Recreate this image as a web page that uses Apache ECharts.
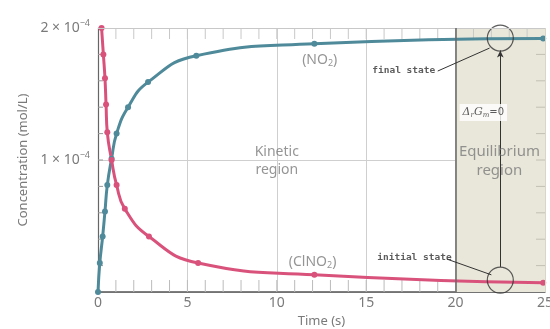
<!DOCTYPE html>
<html>
<head>
<meta charset="utf-8">
<script src="https://cdn.jsdelivr.net/npm/echarts@6/dist/echarts.min.js"></script>
<style>
  html, body { margin: 0; padding: 0; background: #fff; }
  #main { width: 550px; height: 329px; }
</style>
</head>
<body>
<div id="main"></div>
<script>
// time (s) / concentration (mol/L)
const NO2_T = [0, 0.1, 0.26, 0.39, 0.52, 0.76, 1.04, 1.68, 2.8, 5.5, 12.1, 24.9]
const NO2_C = [0, 0.22e-4, 0.42e-4, 0.61e-4, 0.81e-4, 1.01e-4, 1.2e-4, 1.4e-4, 1.59e-4, 1.79e-4, 1.88e-4, 1.92e-4]
const CLNO2_T = [0.2, 0.3, 0.39, 0.45, 0.52, 0.76, 1.04, 1.5, 2.85, 5.6, 12.1, 24.9]
const CLNO2_C = [2.0e-4, 1.8e-4, 1.62e-4, 1.42e-4, 1.21e-4, 1.0e-4, 0.81e-4, 0.63e-4, 0.42e-4, 0.22e-4, 0.13e-4, 0.07e-4]
const Y_LABELS = {1: '1 × 10{s|−4}', 2: '2 × 10{s|−4}'}
const X_MAX = 25
const Y_MAX = 2e-4
const EQ_START = 20
const EQ_END = 25

const grey = '#7a7a7a'
const blue = '#4f8a9a'
const pink = '#d9527c'

const zip = (xs, ys) => xs.map((x, i) => [x, ys[i]])

// frame ticks: every 1 s along time, every 0.2e-4 along concentration
// [value, side] side: 0 bottom, 1 top, 2 left, 3 right
const frameTicks = []
for (let s = 1; s < X_MAX; s++) {
  if (s < EQ_START) frameTicks.push([s, 0])
  frameTicks.push([s, 1])
}
for (let k = 1; k < 10; k++) {
  frameTicks.push([k * 0.2e-4, 2])
  frameTicks.push([k * 0.2e-4, 3])
}

let chart = echarts.init(document.getElementById('main'))

// text notes placed in data units
const notes = [
  {value: [12.4, 1.76e-4], text: '(NO{sub|2})', style: 'plain'},
  {value: [12.0, 0.23e-4], text: '(ClNO{sub|2})', style: 'plain'},
  {value: [10, 0.99e-4], text: 'Kinetic\nregion', style: 'plain'},
  {value: [22.45, 0.99e-4], text: 'Equilibrium\nregion', style: 'big'},
  {value: [17.1, 1.68e-4], text: 'final state', style: 'mono'},
  {value: [17.7, 0.26e-4], text: 'initial state', style: 'mono'},
  {value: [21.55, 1.36e-4], text: '{g|Δ}{sub|r}{g|G}{sub|m}{e|=0}', style: 'dg'}
]

function noteLabel(n) {
  const base = {show: true, position: 'inside', formatter: n.text}
  if (n.style === 'mono') {
    return Object.assign(base, {
      fontFamily: 'DejaVu Sans Mono', fontWeight: 'bold', fontSize: 9.5, color: '#333'
    })
  }
  if (n.style === 'dg') {
    return Object.assign(base, {
      backgroundColor: '#fff', padding: [2, 3],
      rich: {
        g: {fontFamily: 'DejaVu Serif', fontStyle: 'italic', fontSize: 11, color: '#333'},
        sub: {fontFamily: 'DejaVu Serif', fontStyle: 'italic', fontSize: 7, color: '#333', padding: [6, 0, 0, 0]},
        e: {fontFamily: 'DejaVu Sans', fontSize: 10, color: '#333'}
      }
    })
  }
  const size = n.style === 'big' ? 15 : 14
  return Object.assign(base, {
    fontFamily: 'Noto Sans', fontSize: size, lineHeight: size + 4, color: grey, align: 'center',
    rich: {sub: {fontFamily: 'Noto Sans', fontSize: 9, color: grey, padding: [8, 0, 0, 0]}}
  })
}

function renderTick(params, api) {
  const v = api.value(0)
  const side = api.value(1)
  let p, d, color
  if (side === 0) { p = api.coord([v, 0]); d = [0, -12]; color = '#bbb' }
  else if (side === 1) { p = api.coord([v, Y_MAX]); d = [0, 11]; color = '#c8c8c8' }
  else if (side === 2) { p = api.coord([0, v]); d = [5, 0]; color = '#999' }
  else { p = api.coord([X_MAX, v]); d = [-9, 0]; color = '#c2c0b2' }
  return {
    type: 'line',
    shape: {x1: p[0], y1: p[1], x2: p[0] + d[0], y2: p[1] + d[1]},
    style: {stroke: color, lineWidth: 1}
  }
}

chart.setOption({
  animation: false,
  grid: {left: 98, right: 5, top: 28, bottom: 37, outerBoundsMode: 'none'},
  xAxis: {
    type: 'value', min: 0, max: X_MAX, interval: 5,
    name: 'Time (s)', nameLocation: 'middle', nameGap: 22,
    nameTextStyle: {color: grey, fontSize: 13, fontFamily: 'Noto Sans'},
    axisLine: {onZero: false, lineStyle: {color: '#555', width: 1.5}},
    axisTick: {show: false},
    axisLabel: {color: grey, fontSize: 14, fontFamily: 'Noto Sans', margin: 4},
    splitLine: {show: true, lineStyle: {color: '#cfcfcf', width: 1}}
  },
  yAxis: {
    type: 'value', min: 0, max: Y_MAX, interval: 1e-4,
    name: 'Concentration (mol/L)', nameLocation: 'middle', nameGap: 67,
    nameTextStyle: {color: grey, fontSize: 13, fontFamily: 'Noto Sans'},
    axisLine: {show: true, onZero: false, lineStyle: {color: '#666', width: 1.2}},
    axisTick: {show: false},
    axisLabel: {
      color: grey, fontSize: 14, fontFamily: 'Noto Sans', margin: 8,
      formatter: v => Y_LABELS[Math.round(v * 1e4)] || '',
      rich: {s: {fontSize: 9, color: grey, fontFamily: 'Noto Sans', padding: [0, 0, 9, 0]}}
    },
    splitLine: {show: true, lineStyle: {color: '#cfcfcf'}}
  },
  series: [{
    name: 'NO2', type: 'line', smooth: 0.5, z: 3,
    data: zip(NO2_T, NO2_C),
    symbol: 'circle', symbolSize: 6,
    lineStyle: {color: blue, width: 3},
    itemStyle: {color: blue},
    // equilibrium shading, frame top, x = 20 border, arrow and leader lines
    markArea: {
      silent: true,
      itemStyle: {color: '#e9e7da'},
      data: [[{xAxis: EQ_START}, {xAxis: EQ_END}]]
    },
    markLine: {
      silent: true, symbol: 'none', label: {show: false},
      lineStyle: {color: '#333', width: 1, type: 'solid'},
      data: [
        [{coord: [0, Y_MAX], lineStyle: {color: '#c8c8c8', width: 1}}, {coord: [X_MAX, Y_MAX]}],
        [{coord: [X_MAX, 0], lineStyle: {color: '#d8d6c8', width: 1}}, {coord: [X_MAX, Y_MAX]}],
        [{coord: [EQ_START, 0], lineStyle: {color: '#666', width: 1.5}}, {coord: [EQ_START, Y_MAX]}],
        [{coord: [22.5, 0.19e-4], symbol: 'none'}, {coord: [22.5, 1.83e-4], symbol: 'arrow', symbolSize: [5, 7]}],
        [{coord: [19.0, 1.674e-4]}, {coord: [21.9, 1.848e-4]}],
        [{coord: [19.5, 0.25e-4]}, {coord: [22.0, 0.13e-4]}]
      ]
    }
  }, {
    name: 'ClNO2', type: 'line', smooth: 0.5, z: 3,
    data: zip(CLNO2_T, CLNO2_C),
    symbol: 'circle', symbolSize: 6,
    lineStyle: {color: pink, width: 3},
    itemStyle: {color: pink}
  }, {
    // minor ticks round the frame
    type: 'custom', silent: true, z: 2,
    renderItem: renderTick,
    data: frameTicks
  }, {
    // state circles
    type: 'scatter', silent: true, z: 4,
    data: [[22.5, 1.924e-4], [22.5, 0.09e-4]],
    symbol: 'circle', symbolSize: 26,
    itemStyle: {color: 'rgba(0,0,0,0)', borderColor: '#333', borderWidth: 1.2}
  }, {
    type: 'scatter', silent: true, symbolSize: 1, z: 5,
    itemStyle: {color: 'rgba(0,0,0,0)'},
    data: notes.map(n => ({value: n.value, label: noteLabel(n)}))
  }]
})
</script>
</body>
</html>
